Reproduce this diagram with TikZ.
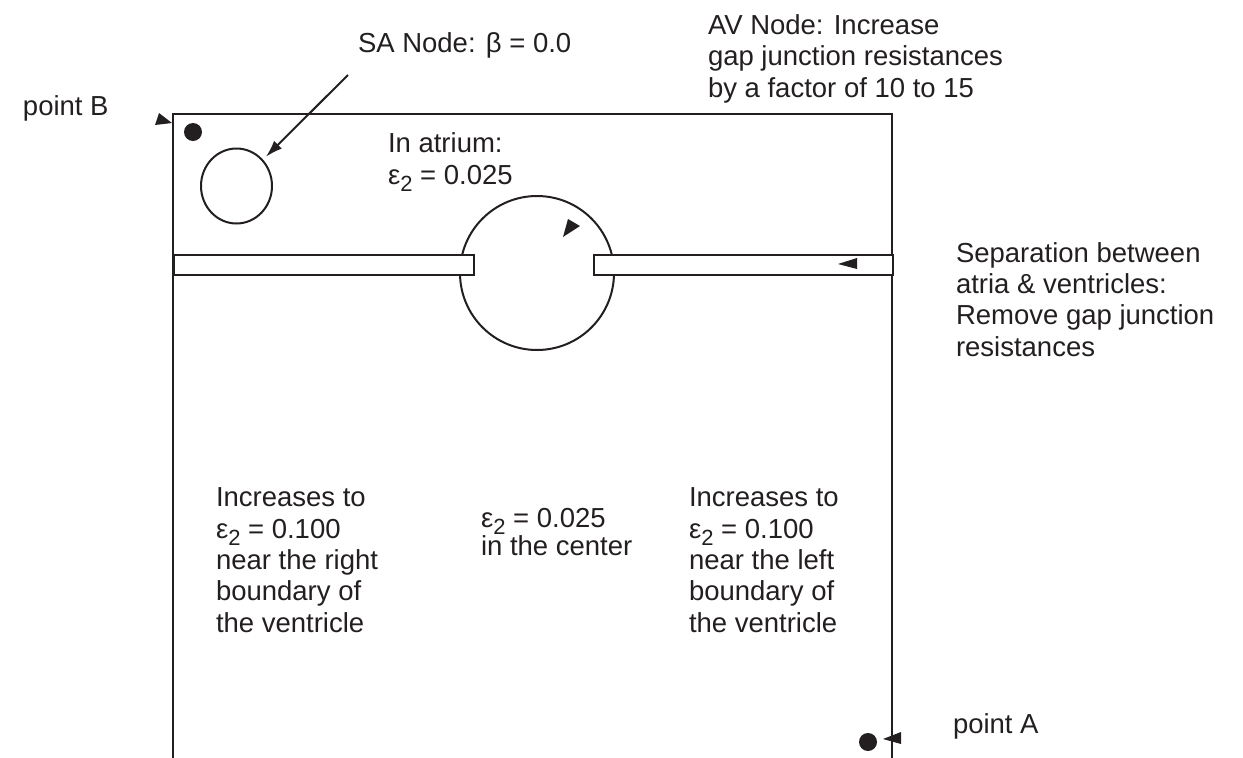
\documentclass[tikz,border=0pt]{standalone}
\usepackage{fontspec}
\setmainfont{Liberation Sans}
\usetikzlibrary{shapes.geometric,arrows.meta}
\definecolor{ink}{HTML}{231F20}
\newcommand{\epsb}{ε\raisebox{-0.28em}{\fontsize{22}{22}\selectfont 2}}
\begin{document}
\begin{tikzpicture}[x=1pt,y=-1pt,line width=2pt,color=ink,
  lbl/.style={font=\fontsize{27.5}{31.3}\selectfont,inner sep=0,anchor=base west,align=left,text=ink},
  dotnode/.style={circle,fill=ink,minimum size=18pt,inner sep=0},
  barnode/.style={draw=ink,fill=white,anchor=north west,minimum height=20pt,inner sep=0},
  tipfill/.style={fill=ink}]
\useasboundingbox (0,0) rectangle (1243,758);
% frame
\coordinate (fBL) at (173,758);
\coordinate (fTL) at (173,114);
\coordinate (fTR) at (892,114);
\coordinate (fBR) at (892,758);
\draw (fBL) -- (fTL) -- (fTR) -- (fBR);
% AV node circle and separation bars
\node[circle,draw=ink,minimum size=154pt,inner sep=0] (av) at (537,273) {};
\node[barnode,minimum width=300pt] (barL) at (173,254) {};
\node[barnode,minimum width=299pt] (barR) at (593,254) {};
% SA node
\node[ellipse,draw=ink,minimum width=71pt,minimum height=75pt,inner sep=0] (sa) at (236.5,186) {};
\coordinate (saTail) at (348,75);
\draw[-{Latex[length=17pt,width=11pt]},shorten >=4pt] (saTail) -- (sa);
% points
\node[dotnode] (dotB) at (193,132) {};
\node[dotnode] (dotA) at (868,742) {};
% stray arrowheads
\fill[tipfill] (159,113) -- (172,123) -- (155,125) -- cycle;
\fill[tipfill] (563,237) -- (568,219) -- (580,226) -- cycle;
\fill[tipfill] (838,264) -- (857,258) -- (857,269) -- cycle;
\fill[tipfill] (883,739) -- (901,732) -- (901,744) -- cycle;
% labels (anchor = baseline of the last line)
\node[lbl] (saLbl) at (357,52) {SA Node: β = 0.0};
\node[lbl] (avLbl) at (707,97) {AV Node: Increase\\gap junction resistances\\by a factor of 10 to 15};
\node[lbl] (ptB) at (22,115) {point B};
\node[lbl] (atrLbl) at (387,184) {In atrium:\\\epsb{} = 0.025};
\node[lbl] (sepLbl) at (955,356) {Separation between\\atria \& ventricles:\\Remove gap junction\\resistances};
\node[lbl] (leftLbl) at (215,632) {Increases to\\\epsb{} = 0.100\\near the right\\boundary of\\the ventricle};
\node[lbl] (ctrLbl) at (480,555) {\epsb{} = 0.025\\[-3.5pt]in the center};
\node[lbl] (rightLbl) at (688,632) {Increases to\\\epsb{} = 0.100\\near the left\\boundary of\\the ventricle};
\node[lbl] (ptA) at (952,733) {point A};
\end{tikzpicture}
\end{document}
